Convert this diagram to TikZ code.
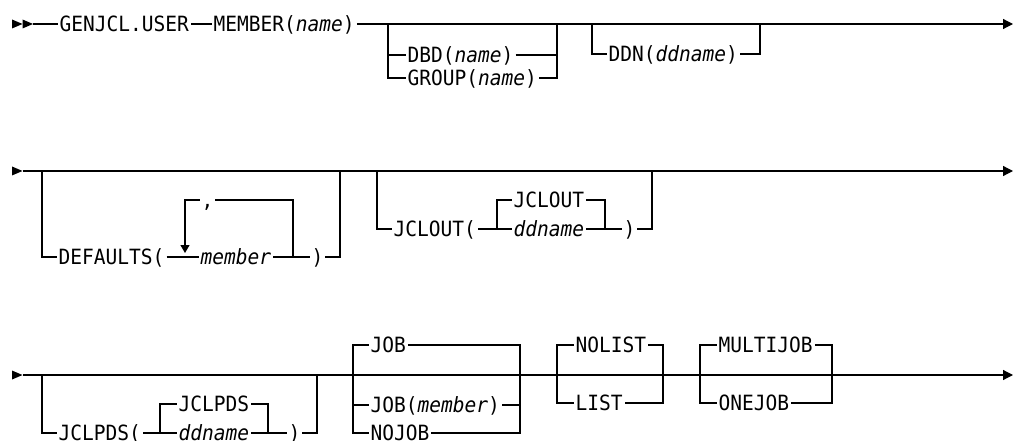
\documentclass[tikz,border=0pt]{standalone}
\usepackage{fontspec}
\setmainfont{DejaVu Sans Mono}[FakeStretch=0.93]
\usetikzlibrary{arrows.meta,calc}
\begin{document}
\begin{tikzpicture}[x=1pt,y=-1pt,line width=1.2pt,
  t/.style={font=\fontsize{21}{23}\selectfont,anchor=west,inner xsep=1.5pt,inner ysep=0pt,text height=15.3pt,text depth=0pt},
  endarrow/.style={-{Triangle[length=10pt,width=10pt]}},
  looparrow/.style={-{Triangle[length=8pt,width=9pt]}},
  headtri/.pic={\fill (0,-4.5) -- (10.5,0) -- (0,4.5) -- cycle;}]
\useasboundingbox (0,0) rectangle (1015,441);

% ---------------- Row 1 ----------------
\coordinate (s1) at (12,24);
\pic at (s1) {headtri};
\pic at (22.5,24) {headtri};
\coordinate (s1e) at (33,24);
\coordinate (e1) at (1013,24);
\node[t] (gen) at (57.5,24) {GENJCL.USER};
\node[t] (mem) at (211.5,24) {MEMBER(\textit{name})};
\draw (s1e) -- (gen.west);
\draw (gen.east) -- (mem.west);
\draw[endarrow] (mem.east) -- (e1);

\coordinate (a1) at (388,78);
\coordinate (a2) at (557,78);
\coordinate (a1t) at (388,24);
\coordinate (a2t) at (557,24);
\node[t] (dbd) at (405.5,55) {DBD(\textit{name})};
\node[t] (grp) at (405.5,78) {GROUP(\textit{name})};
\draw (a1t) -- (a1) -- (grp.west);
\draw (a1 |- dbd) -- (dbd.west);
\draw (dbd.east) -- (a2 |- dbd);
\draw (grp.east) -- (a2) -- (a2t);

\coordinate (c1) at (592,24);
\coordinate (c2) at (760,24);
\node[t] (ddn) at (606.5,54) {DDN(\textit{ddname})};
\draw (c1) |- (ddn.west);
\draw (ddn.east) -| (c2);

% ---------------- Row 2 ----------------
\coordinate (s2) at (12,171);
\pic at (s2) {headtri};
\coordinate (s2e) at (23,171);
\coordinate (e2) at (1013,171);
\draw[endarrow] (s2e) -- (e2);

\coordinate (d1) at (42,171);
\coordinate (d2) at (340,171);
\node[t] (def) at (56.5,257) {DEFAULTS(};
\node[t] (comma) at (199.5,200) {,};
\node[t] (mbr) at (198.5,257) {\textit{member}};
\node[t] (rp1) at (309.5,257) {)};
\coordinate (lpb) at (185,253);
\coordinate (lpr) at (293,257);
\draw (d1) |- (def.west);
\draw (def.east) -- (mbr.west);
\draw (mbr.east) -- (rp1.west);
\draw (rp1.east) -| (d2);
\draw[looparrow] (comma.west) -| (lpb);
\draw (comma.east) -| (lpr);

\coordinate (j1) at (377,171);
\coordinate (j2) at (652,171);
\node[t] (jo) at (391.5,229) {JCLOUT(};
\node[t] (jodef) at (511.5,200) {JCLOUT};
\node[t] (jodd) at (511.5,229) {\textit{ddname}};
\node[t] (rp2) at (621.5,229) {)};
\coordinate (ji1) at (497,229);
\coordinate (ji2) at (605,229);
\draw (j1) |- (jo.west);
\draw (jo.east) -- (jodd.west);
\draw (jodef.west) -| (ji1);
\draw (jodef.east) -| (ji2);
\draw (jodd.east) -- (rp2.west);
\draw (rp2.east) -| (j2);

% ---------------- Row 3 ----------------
\coordinate (s3) at (12,375);
\pic at (s3) {headtri};
\coordinate (s3e) at (23,375);
\coordinate (e3) at (1013,375);
\draw[endarrow] (s3e) -- (e3);

\coordinate (p1) at (42,375);
\coordinate (p2) at (317,375);
\node[t] (jp) at (56.5,433) {JCLPDS(};
\node[t] (jpdef) at (176.5,404) {JCLPDS};
\node[t] (jpdd) at (176.5,433) {\textit{ddname}};
\node[t] (rp3) at (286.5,433) {)};
\coordinate (pi1) at (160,433);
\coordinate (pi2) at (268,433);
\draw (p1) |- (jp.west);
\draw (jp.east) -- (jpdd.west);
\draw (jpdef.west) -| (pi1);
\draw (jpdef.east) -| (pi2);
\draw (jpdd.east) -- (rp3.west);
\draw (rp3.east) -| (p2);

\coordinate (q1) at (353,433);
\coordinate (q2) at (520,433);
\node[t] (job) at (368.5,345) {JOB};
\node[t] (jobm) at (368.5,405) {JOB(\textit{member})};
\node[t] (nojob) at (368.5,433) {NOJOB};
\draw (job.west) -| (q1) -- (nojob.west);
\draw (q1 |- jobm) -- (jobm.west);
\draw (job.east) -| (q2) -- (nojob.east);
\draw (jobm.east) -- (q2 |- jobm);

\coordinate (n1) at (557,403);
\coordinate (n2) at (663,403);
\node[t] (nol) at (573.5,345) {NOLIST};
\node[t] (lst) at (573.5,403) {LIST};
\draw (nol.west) -| (n1) -- (lst.west);
\draw (nol.east) -| (n2) -- (lst.east);

\coordinate (m1) at (700,403);
\coordinate (m2) at (832,403);
\node[t] (mj) at (716.5,345) {MULTIJOB};
\node[t] (oj) at (716.5,403) {ONEJOB};
\draw (mj.west) -| (m1) -- (oj.west);
\draw (mj.east) -| (m2) -- (oj.east);
\end{tikzpicture}
\end{document}
